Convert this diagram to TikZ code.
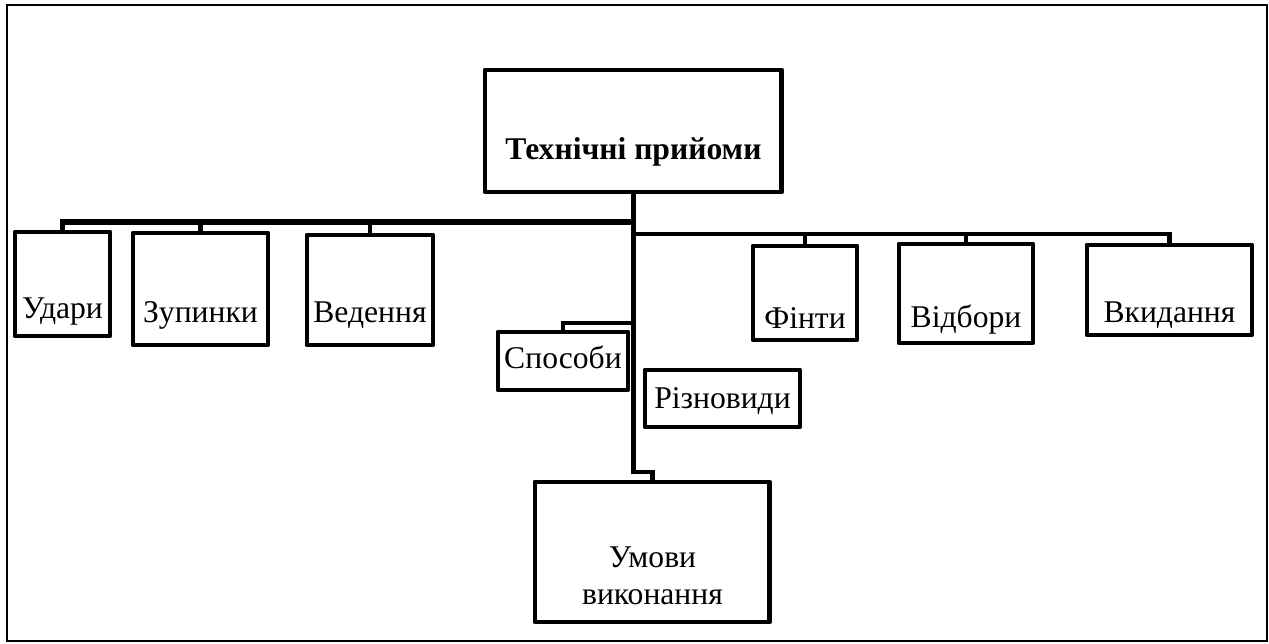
\documentclass[tikz,border=0pt]{standalone}
\usepackage{fontspec}
\setmainfont{Liberation Serif}
\usetikzlibrary{calc}

\tikzset{
  box/.style={draw, rectangle, line width=2.8pt, line join=round, inner sep=0pt, outer sep=0pt,
    anchor=north west, font=\fontsize{18}{21.6}\selectfont},
  link/.style={line width=2.6pt, line join=miter},
}

\begin{document}
\begin{tikzpicture}[x=0.02cm,y=-0.02cm]

\useasboundingbox (0,0) rectangle (1269,643);

% Outer frame
\draw[line width=1.6pt] (7,5) rectangle (1267,641);

% Top box
\node[box, minimum width=5.94cm, text height=1.8cm, text depth=0.64cm, font=\fontsize{18}{21.6}\selectfont\bfseries]
  (title) at (485,70) {Технічні прийоми};

% Left group
\node[box, minimum width=1.9cm, text height=1.74cm, text depth=0.34cm] (udary) at (15,232) {Удари};
\node[box, minimum width=2.7cm, text height=1.8cm, text depth=0.44cm] (zupynky) at (133,233) {Зупинки};
\node[box, minimum width=2.52cm, text height=1.76cm, text depth=0.44cm] (vedennia) at (307,235) {Ведення};

% Right group
\node[box, minimum width=2.08cm, text height=1.66cm, text depth=0.22cm] (finty) at (753,246) {Фінти};
\node[box, minimum width=2.68cm, text height=1.68cm, text depth=0.3cm] (vidbory) at (899,244) {Відбори};
\node[box, minimum width=3.3cm, text height=1.56cm, text depth=0.24cm] (vkydannia) at (1087,245) {Вкидання};

% Middle column
\node[box, minimum width=2.6cm, text height=0.74cm, text depth=0.42cm] (sposoby) at (498,332) {Способи};
\node[box, minimum width=3.1cm, text height=0.78cm, text depth=0.36cm] (riznovydy) at (645,370) {Різновиди};
\node[box, minimum width=4.7cm, text height=2.46cm, text depth=0.34cm, align=center]
  (umovy) at (535,482) {Умови\\виконання};

% Branch points on the main line
\coordinate (hubL) at (title.south |- 0,222);
\coordinate (hubR) at (title.south |- 0,234);
\coordinate (hubS) at (title.south |- 0,323);
\coordinate (hubU) at (title.south |- 0,472);

% Main line
\draw[link] (title.south) -- (hubU) -| (umovy.north);

% Left bus and drops
\draw[link, line width=3.2pt] (hubL) -| (udary.north);
\foreach \n in {zupynky,vedennia}
  \draw[link] (\n.north) -- (\n.north |- hubL);

% Right bus and drops
\draw[link] (hubR) -| (vkydannia.north);
\foreach \n in {finty,vidbory}
  \draw[link] (\n.north) -- (\n.north |- hubR);

\draw[link] (hubS) -| (sposoby.north);

\end{tikzpicture}
\end{document}
